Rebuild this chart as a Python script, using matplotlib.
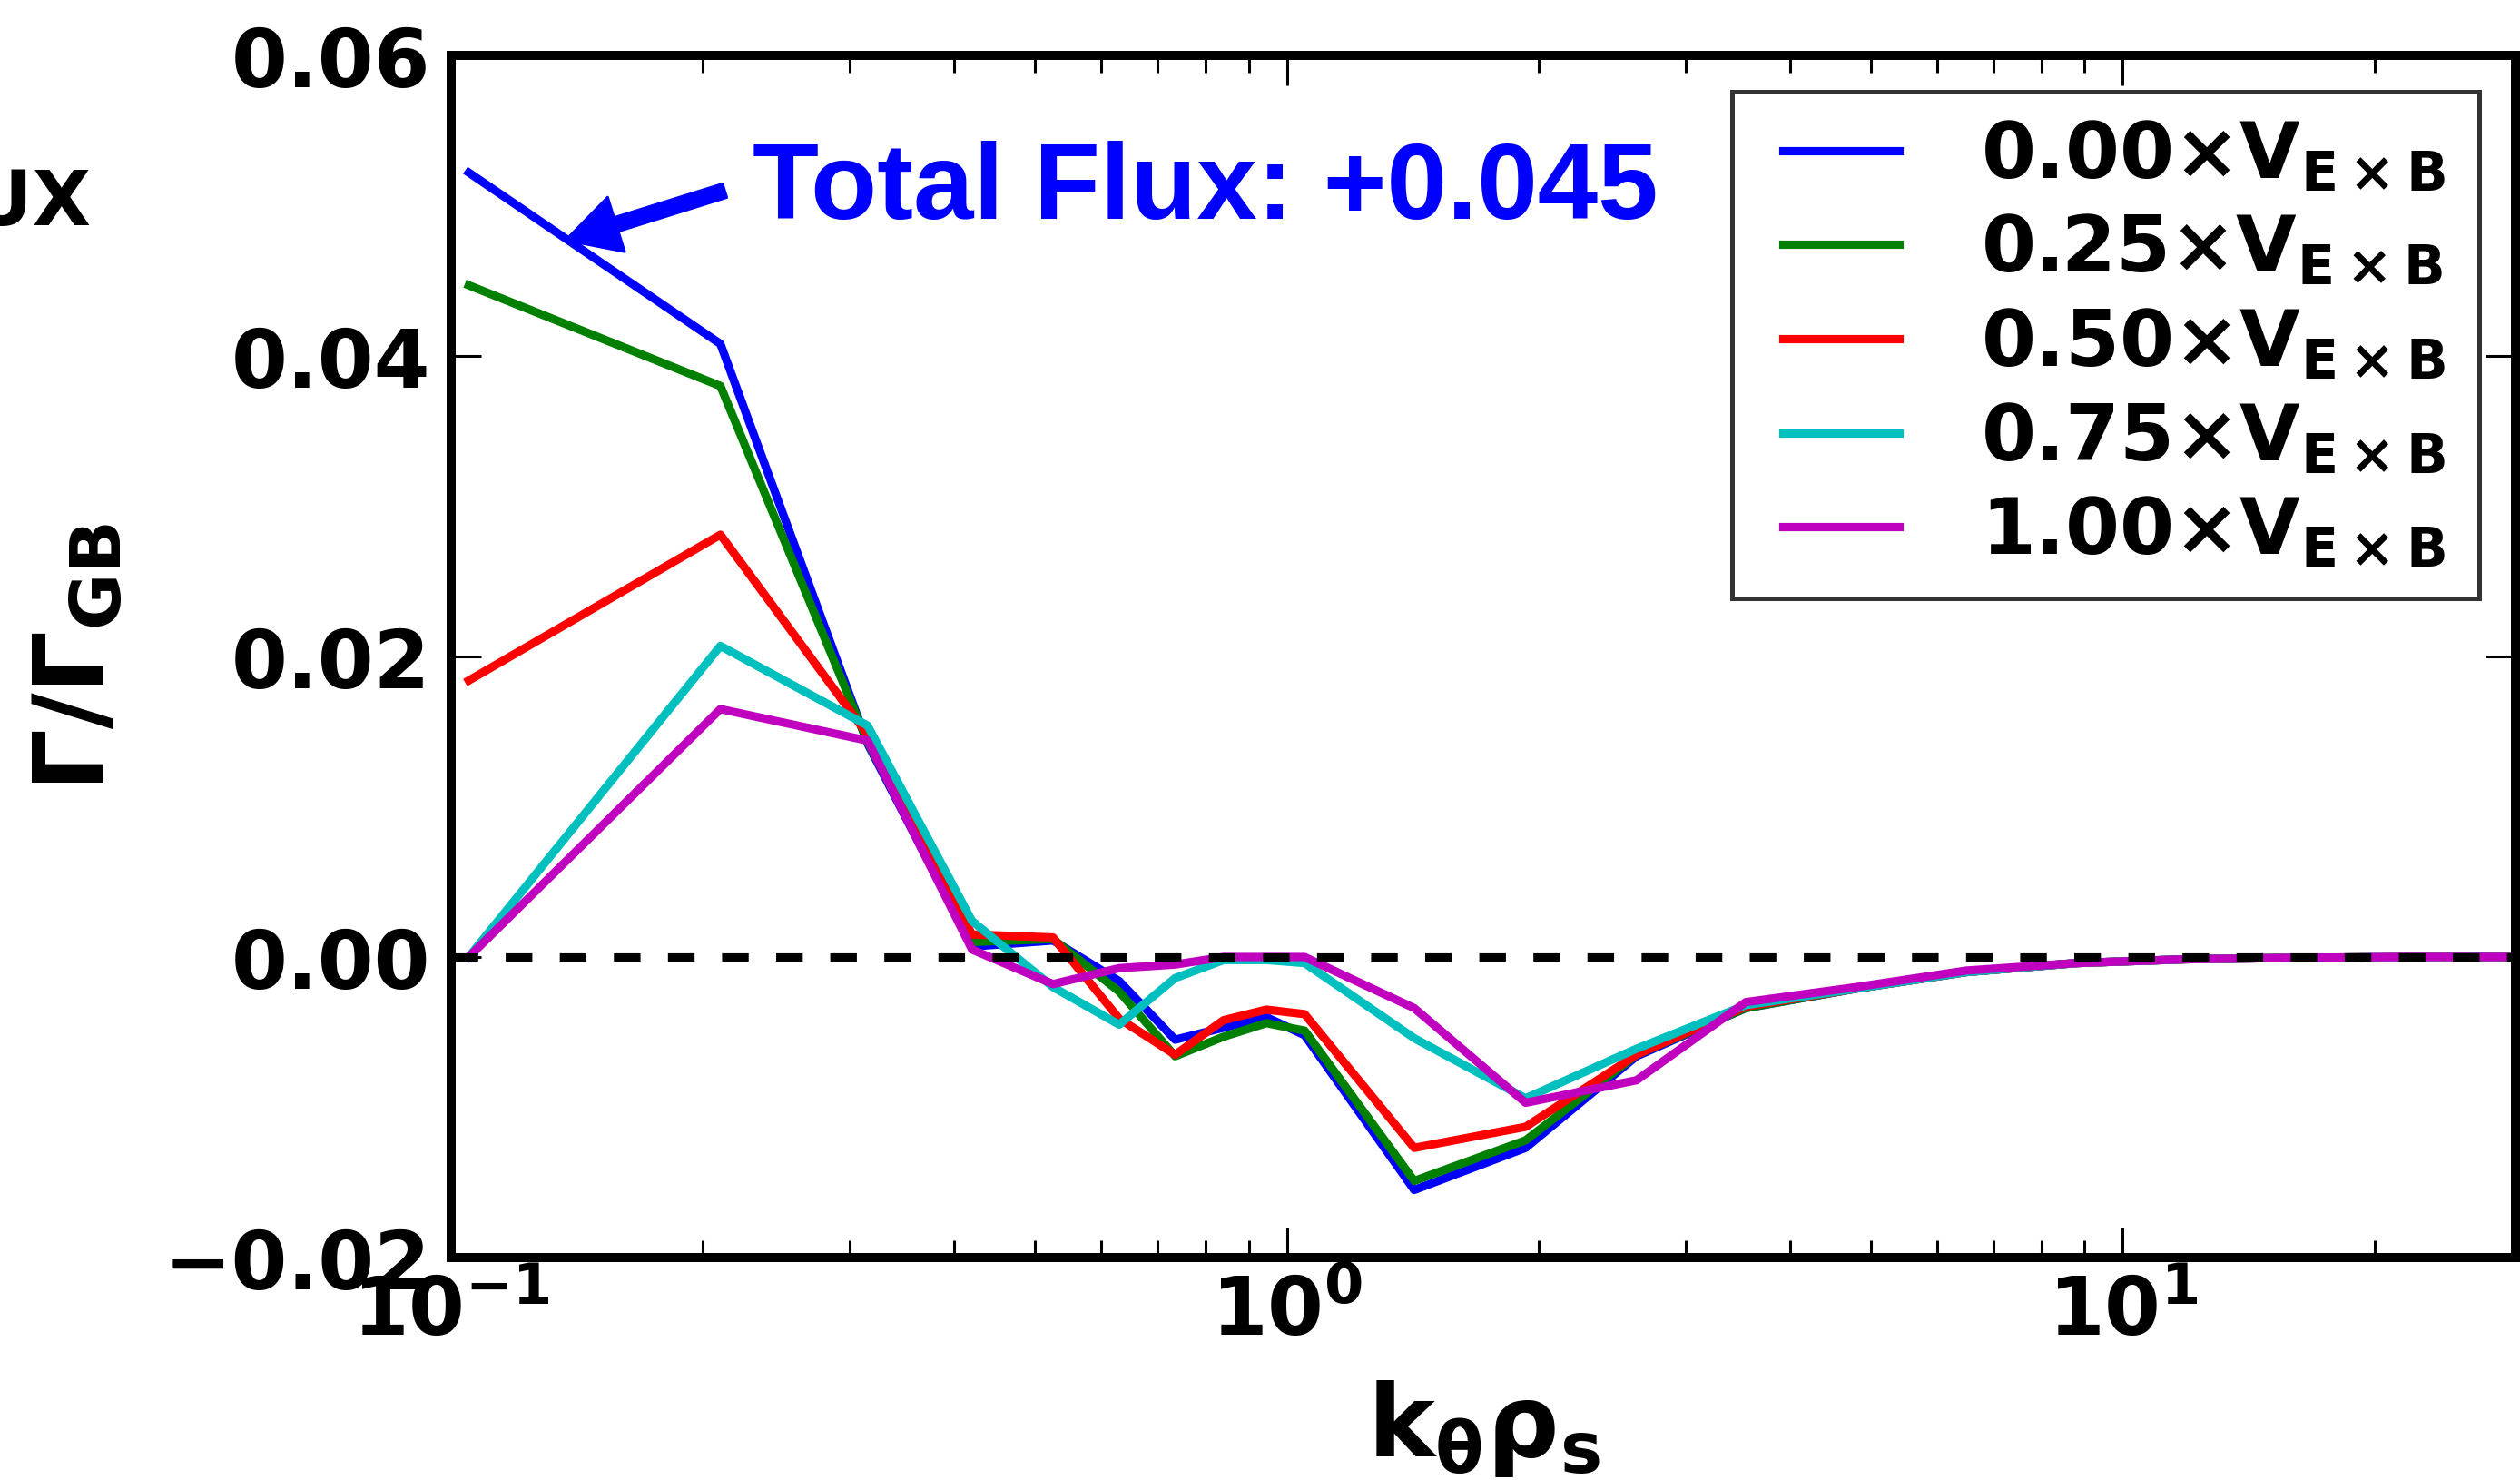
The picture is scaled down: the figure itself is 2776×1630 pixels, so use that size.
import matplotlib
matplotlib.use('Agg')
import matplotlib.pyplot as plt
from matplotlib.ticker import FuncFormatter
from matplotlib.lines import Line2D
from matplotlib.legend_handler import HandlerLine2D

plt.rcParams['font.family'] = 'DejaVu Sans'
plt.rcParams['font.weight'] = 'bold'
plt.rcParams['axes.labelweight'] = 'bold'
plt.rcParams['mathtext.fontset'] = 'dejavusans'
plt.rcParams['mathtext.default'] = 'bf'

# k_theta rho_s grid
ky = [0.105, 0.21, 0.315, 0.42, 0.525, 0.63, 0.735, 0.84, 0.945, 1.05,
      1.42, 1.93, 2.62, 3.54, 4.80, 6.50, 8.81, 11.9, 16.2, 21.9, 29.7]

# particle flux spectra for each ExB shear multiplier
flux_000 = [0.0522, 0.0408, 0.0142, 0.0007, 0.0011, -0.0016, -0.0055, -0.0047, -0.0040, -0.0052,
            -0.0155, -0.0127, -0.0066, -0.0034, -0.0021, -0.0010, -0.0004, -0.00015, -0.00005, -0.00001, 0.0]
flux_025 = [0.0447, 0.0380, 0.0143, 0.0010, 0.0012, -0.0023, -0.0066, -0.0053, -0.0044, -0.0049,
            -0.0149, -0.0122, -0.0065, -0.0034, -0.0021, -0.0010, -0.0004, -0.00015, -0.00005, -0.00001, 0.0]
flux_050 = [0.0184, 0.0281, 0.0148, 0.0015, 0.0013, -0.0041, -0.0065, -0.0042, -0.0035, -0.0038,
            -0.0127, -0.0113, -0.0065, -0.0033, -0.0021, -0.0010, -0.0004, -0.00015, -0.00005, -0.00001, 0.0]
flux_075 = [0.0, 0.0207, 0.0154, 0.0024, -0.0020, -0.0045, -0.0014, -0.0002, -0.0002, -0.0004,
            -0.0054, -0.0094, -0.0061, -0.0032, -0.0021, -0.0010, -0.0004, -0.00015, -0.00005, -0.00001, 0.0]
flux_100 = [0.0, 0.0165, 0.0144, 0.0005, -0.0018, -0.00074, -0.0005, 0.0, 0.0, 0.0,
            -0.0034, -0.0097, -0.0082, -0.0030, -0.0020, -0.0009, -0.0004, -0.00015, -0.00005, 0.0, 0.0]

labels = [r'0.00×V$_{E\times B}$', r'0.25×V$_{E\times B}$', r'0.50×V$_{E\times B}$',
          r'0.75×V$_{E\times B}$', r'1.00×V$_{E\times B}$']
colors = ['b', 'g', 'r', 'c', 'm']
total_flux = '+0.045'

fig = plt.figure(figsize=(13.88, 8.155), dpi=200)
ax = fig.add_axes([0.1790, 0.1502, 0.8192, 0.8118])

for y, lab, c in zip([flux_000, flux_025, flux_050, flux_075, flux_100], labels, colors):
    ax.plot(ky, y, color=c, lw=3.3, label=lab + '\u2009')

ax.axhline(0.0, color='k', lw=3.3, ls=(0, (3.2, 3.3)))

ax.set_xscale('log')
ax.set_xlim(0.1, 29.5)
ax.set_ylim(-0.02, 0.06)
ax.set_yticks([-0.02, 0.0, 0.02, 0.04, 0.06])
ax.yaxis.set_major_formatter(FuncFormatter(lambda v, p: ('%.2f' % v).replace('-', '\u2212')))

for s in ax.spines.values():
    s.set_linewidth(3.6)
ax.tick_params(which='both', direction='in', top=True, right=True, labelsize=32)
ax.tick_params(which='major', length=12, width=1.1)
ax.tick_params(which='minor', length=6.8, width=1.1)
ax.tick_params(axis='y', pad=8)
ax.tick_params(axis='x', pad=6)

ax.set_xlabel(r'k$_θ$ρ$_s$', fontsize=40)
ax.set_ylabel(r'Γ/Γ$_{GB}$', fontsize=39)
ax.xaxis.set_label_coords(0.5, -0.100)
ax.yaxis.set_label_coords(-0.158, 0.5)

# arrow pointing at the zero-shear curve
ax.annotate('', xy=(0.1371, 0.0477), xytext=(0.2125, 0.0510),
            arrowprops=dict(arrowstyle='simple,head_length=1.5,head_width=1.62,tail_width=0.41',
                            mutation_scale=14, color='b', shrinkA=0, shrinkB=0))
ax.text(0.2296, 0.0492, 'Total Flux: ' + total_flux, color='b', fontsize=43,
        family='Liberation Sans', fontweight='bold', ha='left', va='baseline')

leg = ax.legend(loc='upper right', fontsize=31, handlelength=1.78, handletextpad=1.05,
                borderpad=0.35, labelspacing=0.24, borderaxespad=0.46, fancybox=False,
                handler_map={Line2D: HandlerLine2D(xpad=0.3)})
leg.get_frame().set_edgecolor('k')
leg.get_frame().set_linewidth(1.8)
for line in leg.get_lines():
    line.set_linewidth(3.3)

fig.text(0.036, 0.848, 'FLUX', fontsize=30, fontweight='bold', ha='right', va='baseline')

fig.savefig('out.png', dpi=200)
